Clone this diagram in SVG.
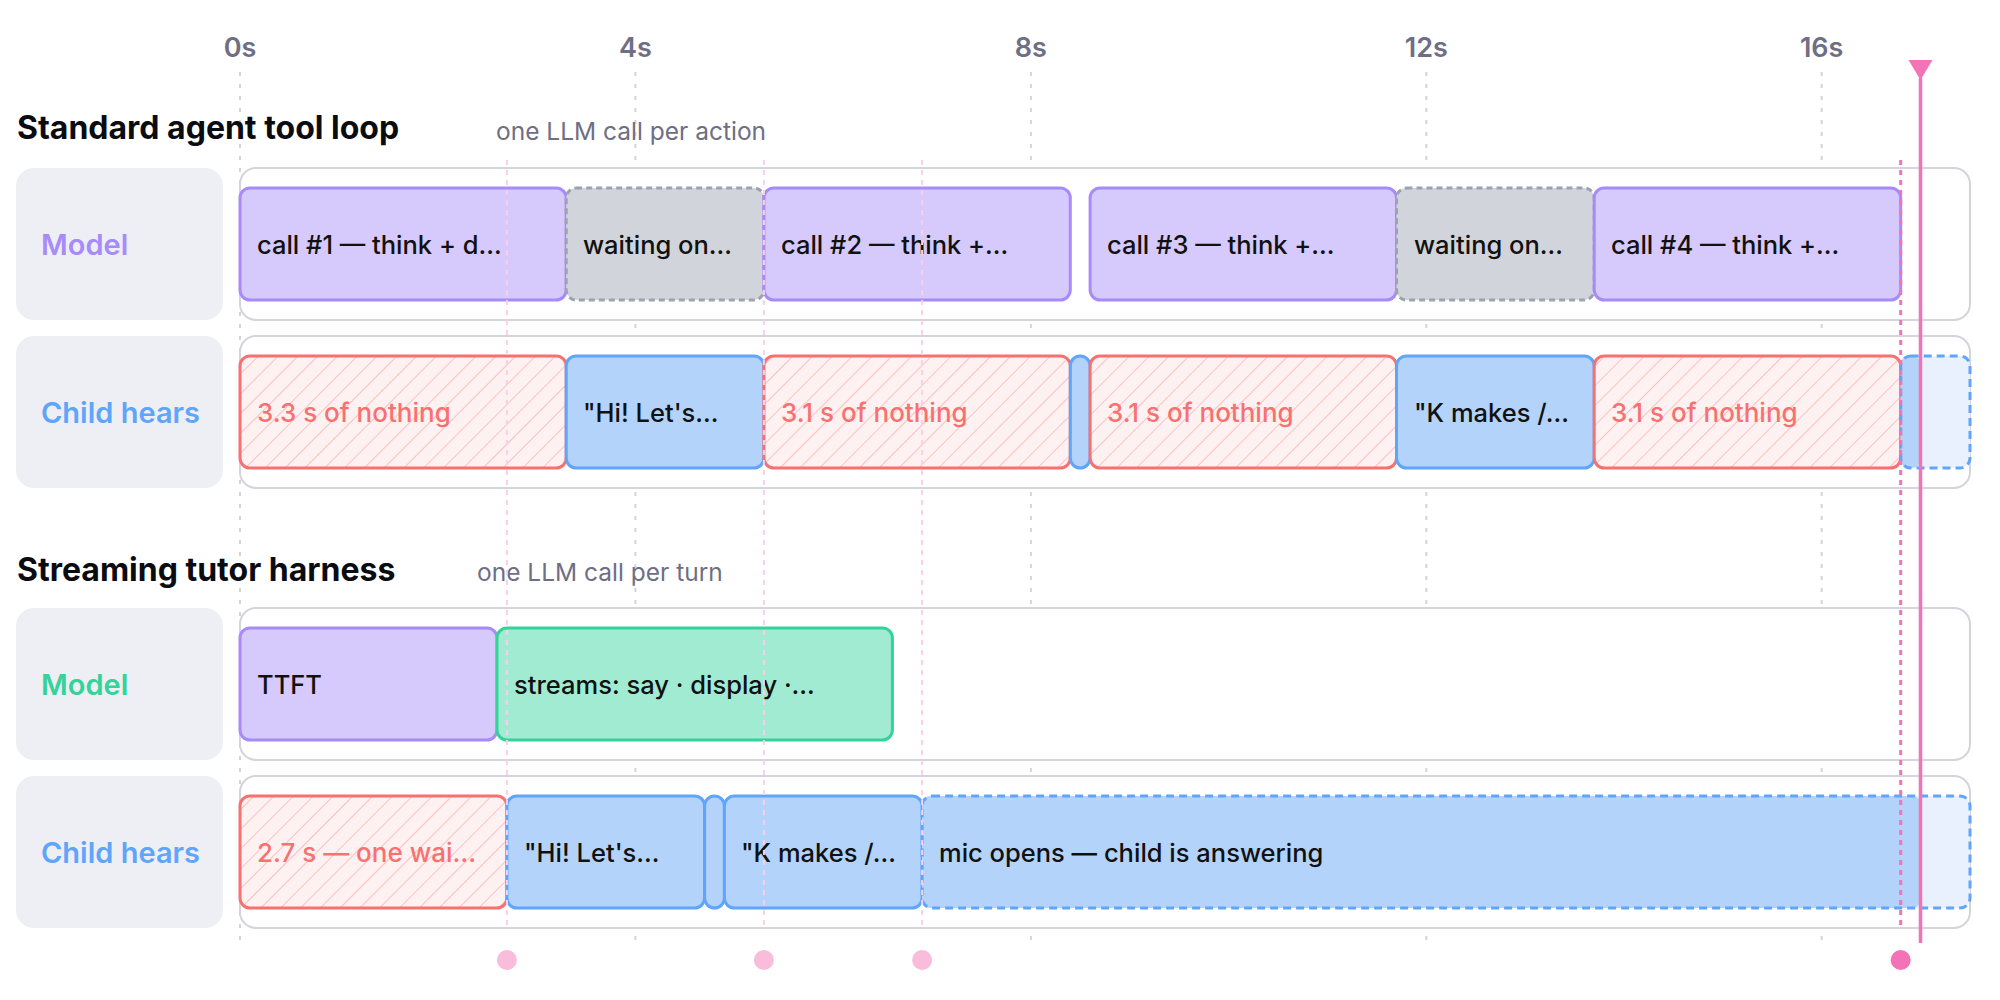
<svg xmlns="http://www.w3.org/2000/svg" width="2000" height="1000" viewBox="0 0 2000 1000">
<style>
text{font-family:Inter,"Noto Sans","Liberation Sans",sans-serif}
.tick{font-size:27px;font-weight:600;fill:#6e6e85;text-anchor:middle}
.title{font-size:32px;font-weight:700;fill:#0b0b12}
.sub{font-size:24.5px;fill:#6e6e85}
.lblbox{fill:#eeeff4}
.lbl{font-size:29px;font-weight:600}
.lane{fill:#fff;stroke:#d4d4dc;stroke-width:2}
.bt{font-size:25.5px;fill:#111;font-weight:500}
.rt{font-size:26px;fill:#f87171;font-weight:500}
.purple{fill:#d6c9fb;stroke:#a78bfa;stroke-width:3}
.gray{fill:#d1d5db;stroke:#9ca3af;stroke-width:3;stroke-dasharray:6 4}
.blue{fill:#b3d3fb;stroke:#60a5fa;stroke-width:3}
.green{fill:#a0ebd1;stroke:#34d399;stroke-width:3}
.red{fill:url(#hatch);stroke:#f87171;stroke-width:3}
.micbg{fill:#e8f1fd}
.micfill{fill:#b3d3fb}
.micedge{fill:none;stroke:#60a5fa;stroke-width:3;stroke-dasharray:8 5}
.grid{stroke:#d4d4d8;stroke-width:2;stroke-dasharray:4 8}
.pinkl{stroke:#fbcfe8;stroke-width:2;stroke-dasharray:5 5}
.pinkd{stroke:#f472b6;stroke-width:3;stroke-dasharray:5 5}
</style>
<defs>
<pattern id="hatch" patternUnits="userSpaceOnUse" width="14" height="14" patternTransform="rotate(45)">
<rect width="14" height="14" fill="#fef1f1"/>
<line x1="0" y1="0" x2="0" y2="14" stroke="#fcb4b4" stroke-width="1.6"/>
</pattern>
</defs>
<rect width="2000" height="1000" fill="#fff"/>

<g id="axis">
<text class="tick" x="240" y="57">0s</text>
<text class="tick" x="635.4" y="57">4s</text>
<text class="tick" x="1030.9" y="57">8s</text>
<text class="tick" x="1426.3" y="57">12s</text>
<text class="tick" x="1821.7" y="57">16s</text>
</g>

<g id="gridlines">
<line class="grid" x1="240" y1="72" x2="240" y2="940"/>
<line class="grid" x1="635.4" y1="72" x2="635.4" y2="940"/>
<line class="grid" x1="1030.9" y1="72" x2="1030.9" y2="940"/>
<line class="grid" x1="1426.3" y1="72" x2="1426.3" y2="940"/>
<line class="grid" x1="1821.7" y1="72" x2="1821.7" y2="940"/>
</g>

<g id="section-standard">
<text class="title" x="17" y="139">Standard agent tool loop</text>
<text class="sub" x="496" y="140">one LLM call per action</text>
</g>
<g id="section-streaming">
<text class="title" x="17" y="581">Streaming tutor harness</text>
<text class="sub" x="477" y="581">one LLM call per turn</text>
</g>

<g id="lane-std-model">
<rect class="lblbox" x="16" y="168" width="207" height="152" rx="18"/>
<text class="lbl" x="41" y="244" dominant-baseline="central" fill="#a78bfa">Model</text>
<rect class="lane" x="240" y="168" width="1730" height="152" rx="16"/>
</g>
<g id="lane-std-child">
<rect class="lblbox" x="16" y="336" width="207" height="152" rx="18"/>
<text class="lbl" x="41" y="412" dominant-baseline="central" fill="#60a5fa">Child hears</text>
<rect class="lane" x="240" y="336" width="1730" height="152" rx="16"/>
</g>
<g id="lane-str-model">
<rect class="lblbox" x="16" y="608" width="207" height="152" rx="18"/>
<text class="lbl" x="41" y="684" dominant-baseline="central" fill="#34d399">Model</text>
<rect class="lane" x="240" y="608" width="1730" height="152" rx="16"/>
</g>
<g id="lane-str-child">
<rect class="lblbox" x="16" y="776" width="207" height="152" rx="18"/>
<text class="lbl" x="41" y="852" dominant-baseline="central" fill="#60a5fa">Child hears</text>
<rect class="lane" x="240" y="776" width="1730" height="152" rx="16"/>
</g>

<g id="std-model-call1"><rect class="purple" x="240" y="188" width="326.2" height="112" rx="10"/><text class="bt" x="257" y="244" dominant-baseline="central">call #1 — think + d…</text></g>
<g id="std-model-wait1"><rect class="gray" x="566.2" y="188" width="197.7" height="112" rx="10"/><text class="bt" x="583" y="244" dominant-baseline="central">waiting on…</text></g>
<g id="std-model-call2"><rect class="purple" x="763.9" y="188" width="306.4" height="112" rx="10"/><text class="bt" x="781" y="244" dominant-baseline="central">call #2 — think +…</text></g>
<g id="std-model-call3"><rect class="purple" x="1090.1" y="188" width="306.4" height="112" rx="10"/><text class="bt" x="1107" y="244" dominant-baseline="central">call #3 — think +…</text></g>
<g id="std-model-wait2"><rect class="gray" x="1396.5" y="188" width="197.7" height="112" rx="10"/><text class="bt" x="1414" y="244" dominant-baseline="central">waiting on…</text></g>
<g id="std-model-call4"><rect class="purple" x="1594.2" y="188" width="306.5" height="112" rx="10"/><text class="bt" x="1611" y="244" dominant-baseline="central">call #4 — think +…</text></g>

<g id="std-child-gap1"><rect class="red" x="240" y="356" width="326.2" height="112" rx="10"/><text class="rt" x="257" y="412" dominant-baseline="central">3.3 s of nothing</text></g>
<g id="std-child-say1"><rect class="blue" x="566.2" y="356" width="197.7" height="112" rx="10"/><text class="bt" x="583" y="412" dominant-baseline="central">"Hi! Let's…</text></g>
<g id="std-child-gap2"><rect class="red" x="763.9" y="356" width="306.4" height="112" rx="10"/><text class="rt" x="781" y="412" dominant-baseline="central">3.1 s of nothing</text></g>
<g id="std-child-say2"><rect class="blue" x="1070.3" y="356" width="19.8" height="112" rx="10"/></g>
<g id="std-child-gap3"><rect class="red" x="1090.1" y="356" width="306.4" height="112" rx="10"/><text class="rt" x="1107" y="412" dominant-baseline="central">3.1 s of nothing</text></g>
<g id="std-child-say3"><rect class="blue" x="1396.5" y="356" width="197.7" height="112" rx="10"/><text class="bt" x="1414" y="412" dominant-baseline="central">"K makes /…</text></g>
<g id="std-child-gap4"><rect class="red" x="1594.2" y="356" width="306.5" height="112" rx="10"/><text class="rt" x="1611" y="412" dominant-baseline="central">3.1 s of nothing</text></g>
<g id="std-child-mic"><rect class="micbg" x="1900.7" y="356" width="69.3" height="112" rx="10"/><rect class="micfill" x="1900.7" y="356" width="19.5" height="112" rx="8"/><rect class="micedge" x="1900.7" y="356" width="69.3" height="112" rx="10"/></g>

<g id="str-model-ttft"><rect class="purple" x="240" y="628" width="257" height="112" rx="10"/><text class="bt" x="257" y="684" dominant-baseline="central">TTFT</text></g>
<g id="str-model-stream"><rect class="green" x="497" y="628" width="395.4" height="112" rx="10"/><text class="bt" x="514" y="684" dominant-baseline="central">streams: say · display ·…</text></g>

<g id="str-child-gap"><rect class="red" x="240" y="796" width="266.9" height="112" rx="10"/><text class="rt" x="257" y="852" dominant-baseline="central">2.7 s — one wai…</text></g>
<g id="str-child-say1"><rect class="blue" x="506.9" y="796" width="197.7" height="112" rx="10"/><text class="bt" x="524" y="852" dominant-baseline="central">"Hi! Let's…</text></g>
<g id="str-child-say2"><rect class="blue" x="704.6" y="796" width="19.8" height="112" rx="10"/></g>
<g id="str-child-say3"><rect class="blue" x="724.4" y="796" width="197.7" height="112" rx="10"/><text class="bt" x="741" y="852" dominant-baseline="central">"K makes /…</text></g>
<g id="str-child-mic"><rect class="micbg" x="922.1" y="796" width="1047.9" height="112" rx="10"/><rect class="micfill" x="922.1" y="796" width="998.1" height="112" rx="8"/><rect class="micedge" x="922.1" y="796" width="1047.9" height="112" rx="10"/><text class="bt" x="939" y="852" dominant-baseline="central">mic opens — child is answering</text></g>

<g id="connectors">
<line class="pinkl" x1="506.9" y1="160" x2="506.9" y2="925"/>
<line class="pinkl" x1="763.9" y1="160" x2="763.9" y2="925"/>
<line class="pinkl" x1="922.1" y1="160" x2="922.1" y2="925"/>
<line class="pinkd" x1="1900.7" y1="160" x2="1900.7" y2="925"/>
<circle cx="506.9" cy="960" r="10" fill="#f9bcdb"/>
<circle cx="763.9" cy="960" r="10" fill="#f9bcdb"/>
<circle cx="922.1" cy="960" r="10" fill="#f9bcdb"/>
<circle cx="1900.7" cy="960" r="10" fill="#f472b6"/>
<line x1="1920.5" y1="78" x2="1920.5" y2="943" stroke="#f472b6" stroke-width="3.5"/>
<polygon points="1908.5,60 1932.5,60 1920.5,80" fill="#f472b6"/>
</g>
</svg>
